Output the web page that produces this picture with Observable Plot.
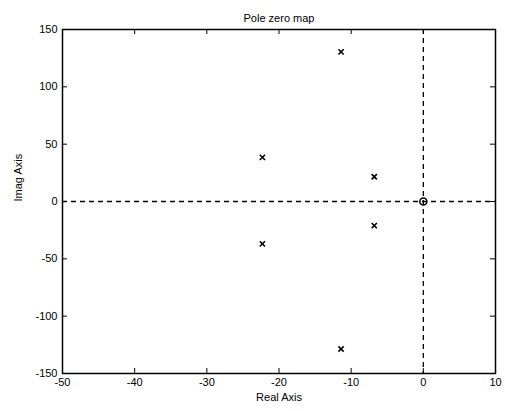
<!DOCTYPE html>
<html>
<head>
<meta charset="utf-8">
<script src="https://cdn.jsdelivr.net/npm/d3@7"></script>
<script src="https://cdn.jsdelivr.net/npm/@observablehq/plot@0.6"></script>
<style>
  html, body { margin: 0; padding: 0; background: #fff; }
  svg { display: block; }
</style>
</head>
<body>
<div id="chart"></div>
<script>
// Data
const poleReal = [-11.4, -22.3, -6.8, -6.8, -22.3, -11.4];
const poleImag = [130.5, 38.5, 21.6, -21.0, -37.0, -128.6];
const zeroReal = [0];
const zeroImag = [0];
const xTicks = [-50, -40, -30, -20, -10, 0, 10];
const yTicks = [-150, -100, -50, 0, 50, 100, 150];
const titleText = "Pole zero map";
const xLabel = "Real Axis";
const yLabel = "Imag Axis";

const poles = poleReal.map((r, i) => ({re: r, im: poleImag[i]}));
const zeros = zeroReal.map((r, i) => ({re: r, im: zeroImag[i]}));

const W = 505, H = 411;
const mL = 62, mR = 10, mT = 29, mB = 38;
const innerH = H - mT - mB;
const innerW = W - mL - mR;
const tk = 5;
const fmt = d => String(d);

const chart = Plot.plot({
  width: W,
  height: H,
  marginLeft: mL,
  marginRight: mR,
  marginTop: mT,
  marginBottom: mB,
  style: {fontFamily: "Liberation Sans, Arial, sans-serif", fontSize: "11px", color: "#000", background: "#fff"},
  x: {domain: [-50, 10], ticks: xTicks},
  y: {domain: [-150, 150], ticks: yTicks},
  marks: [
    Plot.axisX(xTicks, {tickSize: 0, tickPadding: 5, label: null, fontSize: 11, tickFormat: fmt}),
    Plot.axisY(yTicks, {tickSize: 0, tickPadding: 5, label: null, fontSize: 11, tickFormat: fmt}),
    // dashed zero lines
    Plot.ruleX(zeroReal, {x: d => d, stroke: "#000", strokeWidth: 1.3, strokeDasharray: "5,4"}),
    Plot.ruleY(zeroImag, {y: d => d, stroke: "#000", strokeWidth: 1.3, strokeDasharray: "5,4"}),
    // inward ticks on all four sides
    Plot.tickX(xTicks, {x: d => d, insetTop: innerH - tk, stroke: "#000"}),
    Plot.tickX(xTicks, {x: d => d, insetBottom: innerH - tk, stroke: "#000"}),
    Plot.tickY(yTicks, {y: d => d, insetRight: innerW - tk, stroke: "#000"}),
    Plot.tickY(yTicks, {y: d => d, insetLeft: innerW - tk, stroke: "#000"}),
    Plot.frame({stroke: "#000", strokeWidth: 1.5}),
    // poles and zeros
    Plot.dot(poles, {x: "re", y: "im", symbol: "times", r: 2.5, stroke: "#000", strokeWidth: 1.6}),
    Plot.dot(zeros, {x: "re", y: "im", symbol: "circle", r: 3.5, stroke: "#000", strokeWidth: 1.6, fill: "none"}),
    // title and axis labels
    Plot.text([titleText], {frameAnchor: "top", dy: -15, fontSize: 11, fill: "#000"}),
    Plot.text([xLabel], {frameAnchor: "bottom", dy: 27, fontSize: 11, fill: "#000"}),
    Plot.text([yLabel], {frameAnchor: "left", dx: -44, rotate: -90, fontSize: 11, fill: "#000"})
  ]
});
document.getElementById("chart").appendChild(chart);
</script>
</body>
</html>
